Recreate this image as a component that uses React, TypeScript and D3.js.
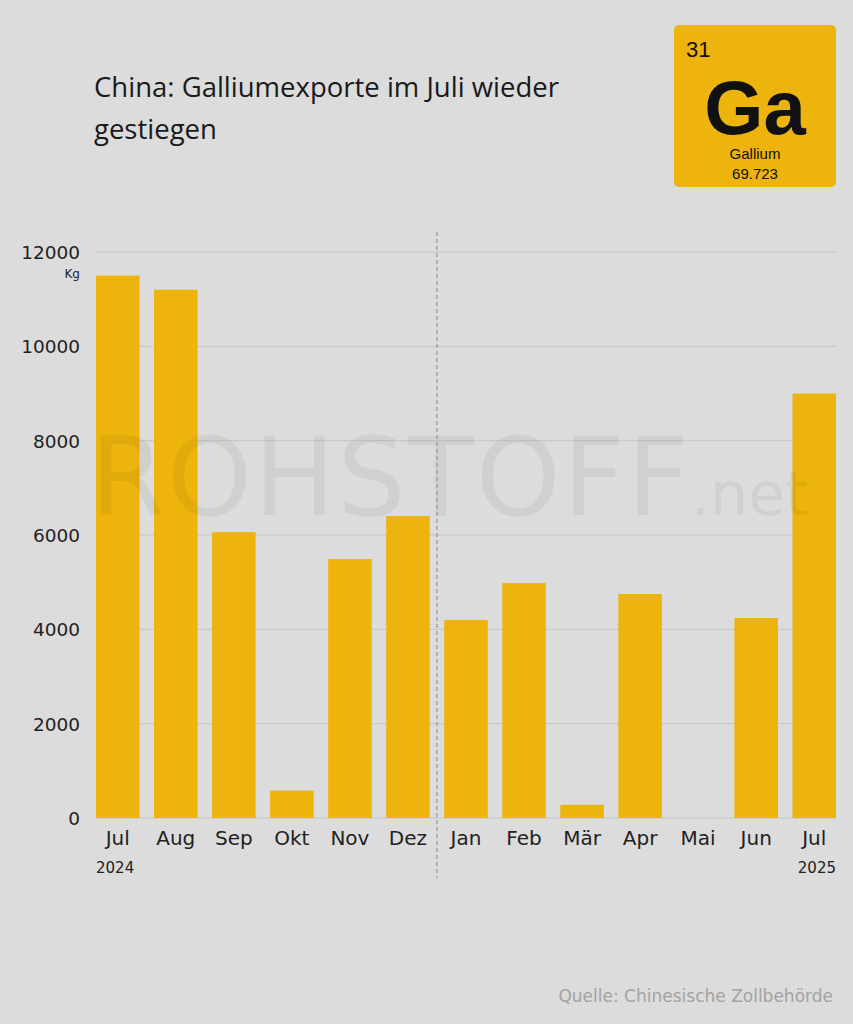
import { useEffect } from 'react'
import * as d3 from 'd3'

const months = ['Jul', 'Aug', 'Sep', 'Okt', 'Nov', 'Dez', 'Jan', 'Feb', 'Mär', 'Apr', 'Mai', 'Jun', 'Jul']
const keys = ['2024-07', '2024-08', '2024-09', '2024-10', '2024-11', '2024-12', '2025-01', '2025-02', '2025-03', '2025-04', '2025-05', '2025-06', '2025-07']
const exportsKg = [11500, 11200, 6060, 580, 5490, 6400, 4200, 4980, 280, 4750, 0, 4240, 9000]
const yTicks = [0, 2000, 4000, 6000, 8000, 10000, 12000]

const W = 853
const H = 1024
const BAR = '#ecb40c'
const BG = '#dcdcdc'
const FONT = "'DejaVu Sans', 'Noto Sans', sans-serif"

export default function App() {
  useEffect(() => {
    document.body.style.margin = '0'
  }, [])

  const x = d3.scaleBand<string>()
    .domain(keys)
    .range([96, 836])
    .paddingInner(0.25)
    .paddingOuter(0)

  const y = d3.scaleLinear()
    .domain([0, 12000])
    .range([818, 252])

  const splitX = ((x('2024-12') ?? 0) + x.bandwidth() + (x('2025-01') ?? 0)) / 2

  return (
    <svg width={W} height={H} style={{ display: 'block', background: BG }}>
      <rect width={W} height={H} fill={BG} />

      {/* title */}
      <text x={94} y={97} fontFamily="'Open Sans', sans-serif" fontSize={27.5} fill="#1a1a1a">
        China: Galliumexporte im Juli wieder
      </text>
      <text x={94} y={139} fontFamily="'Open Sans', sans-serif" fontSize={27.5} fill="#1a1a1a">
        gestiegen
      </text>

      {/* periodic table tile */}
      <g fontFamily="'Liberation Sans', Arial, sans-serif" fill="#111">
        <rect x={674} y={25} width={162} height={162} rx={5} fill={BAR} />
        <text x={686} y={57} fontSize={22}>31</text>
        <text x={755} y={134} fontSize={76} fontWeight="bold" textAnchor="middle">Ga</text>
        <text x={755} y={159} fontSize={15} textAnchor="middle">Gallium</text>
        <text x={755} y={179} fontSize={15} textAnchor="middle">69.723</text>
      </g>

      {/* grid */}
      {yTicks.map(t => (
        <line key={t} x1={96} x2={836} y1={y(t)} y2={y(t)} stroke="#c4c4c4" strokeWidth={1} />
      ))}

      {/* bars */}
      {keys.map((k, i) => (
        <rect
          key={k}
          x={x(k)}
          y={y(exportsKg[i])}
          width={x.bandwidth()}
          height={y(0) - y(exportsKg[i])}
          fill={BAR}
        />
      ))}

      {/* watermark */}
      <text x={90} y={515} fontFamily={FONT} fontSize={108} fill="#000" fillOpacity={0.05} letterSpacing={2}>
        ROHSTOFF<tspan fontSize={60} letterSpacing={0}>.net</tspan>
      </text>

      {/* y axis labels */}
      <g fontFamily={FONT} fontSize={18.5} fill="#222" textAnchor="end">
        {yTicks.map(t => (
          <text key={t} x={80} y={y(t) + 7}>{t}</text>
        ))}
        <text x={80} y={278} fontSize={12}>Kg</text>
      </g>

      {/* divider between years */}
      <line x1={splitX} x2={splitX} y1={232} y2={878} stroke="#888" strokeWidth={1} strokeDasharray="4,3" />

      {/* x labels */}
      <g fontFamily={FONT} fontSize={20} fill="#222" textAnchor="middle">
        {keys.map((k, i) => (
          <text key={k} x={(x(k) ?? 0) + x.bandwidth() / 2} y={845}>{months[i]}</text>
        ))}
      </g>
      <text x={x('2024-07')} y={873} fontFamily={FONT} fontSize={15} fill="#222">2024</text>
      <text x={(x('2025-07') ?? 0) + x.bandwidth()} y={873} fontFamily={FONT} fontSize={15} fill="#222" textAnchor="end">2025</text>

      {/* source */}
      <text x={833} y={1002} fontFamily={FONT} fontSize={17} fill="#a3a3a3" textAnchor="end">
        Quelle: Chinesische Zollbehörde
      </text>
    </svg>
  )
}
